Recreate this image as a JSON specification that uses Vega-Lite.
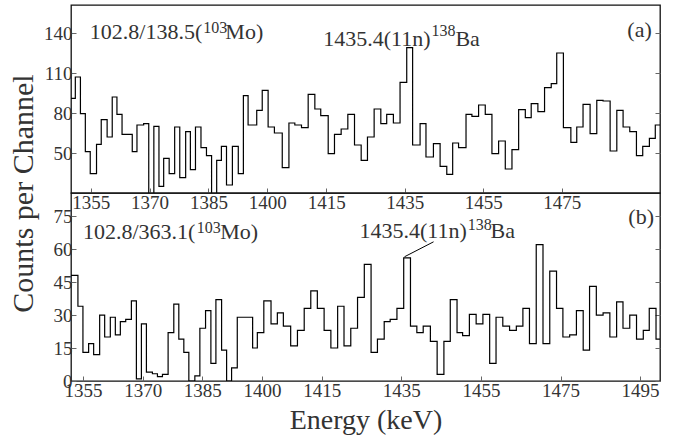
{
  "$schema": "https://vega.github.io/schema/vega-lite/v6.json",
  "background": "white",
  "padding": {"left": 7, "top": 4, "right": 5, "bottom": 5},
  "bounds": "flush",
  "spacing": 0,
  "config": {
    "font": "Liberation Serif",
    "view": {"stroke": "#111", "strokeWidth": 1.3},
    "axis": {
      "labelFont": "Liberation Serif", "labelFontSize": 19, "labelColor": "#333",
      "tickColor": "#666", "tickSize": -5, "domain": false, "grid": false,
      "titleFont": "Liberation Serif", "titleFontWeight": "normal", "titleColor": "#333"
    },
    "text": {"font": "Liberation Serif", "color": "#333"}
  },
  "datasets": {
    "a": [
      {"e":1350.0,"c":91},{"e":1351.1,"c":107},{"e":1352.4,"c":79.5},{"e":1353.65,"c":51},{"e":1354.9,"c":34.5},{"e":1356.5,"c":56.5},{"e":1357.7,"c":75},{"e":1359.2,"c":62},{"e":1360.5,"c":92},{"e":1361.7,"c":79},{"e":1363.0,"c":64},{"e":1365.6,"c":51},{"e":1366.8,"c":71},{"e":1368.5,"c":72},{"e":1369.8,"c":15},{"e":1371.1,"c":70},{"e":1372.4,"c":25},{"e":1373.6,"c":46},{"e":1375.0,"c":34.5},{"e":1376.4,"c":69.5},{"e":1377.7,"c":31.5},{"e":1379.2,"c":66},{"e":1380.4,"c":37.5},{"e":1381.7,"c":69.5},{"e":1383.1,"c":54},{"e":1384.5,"c":48},{"e":1385.8,"c":19},{"e":1387.1,"c":44.5},{"e":1388.3,"c":55},{"e":1389.6,"c":26},{"e":1391.1,"c":55},{"e":1392.6,"c":34.5},{"e":1393.9,"c":93},{"e":1395.1,"c":71},{"e":1397.3,"c":82},{"e":1398.7,"c":97},{"e":1400.2,"c":69.5},{"e":1401.8,"c":65},{"e":1403.8,"c":39},{"e":1405.5,"c":72.5},{"e":1407.0,"c":71},{"e":1408.7,"c":69},{"e":1410.4,"c":94},{"e":1412.1,"c":83},{"e":1413.6,"c":78},{"e":1415.5,"c":49.5},{"e":1417.1,"c":64},{"e":1418.8,"c":68},{"e":1420.5,"c":79},{"e":1422.2,"c":56},{"e":1423.9,"c":44.5},{"e":1425.5,"c":62},{"e":1427.2,"c":83},{"e":1428.9,"c":72},{"e":1430.4,"c":79},{"e":1432.1,"c":72.5},{"e":1433.8,"c":103},{"e":1435.5,"c":129},{"e":1437.0,"c":56},{"e":1438.9,"c":72},{"e":1440.4,"c":47},{"e":1442.3,"c":57},{"e":1444.0,"c":40},{"e":1445.7,"c":34},{"e":1447.2,"c":57.5},{"e":1448.7,"c":54},{"e":1450.6,"c":79},{"e":1452.1,"c":77.5},{"e":1453.8,"c":86},{"e":1455.5,"c":79},{"e":1457.2,"c":49.5},{"e":1458.9,"c":59},{"e":1460.6,"c":38},{"e":1462.3,"c":52.5},{"e":1464.0,"c":82.5},{"e":1465.7,"c":76.5},{"e":1467.2,"c":87},{"e":1468.9,"c":81},{"e":1470.6,"c":99},{"e":1472.3,"c":102},{"e":1473.7,"c":125},{"e":1475.4,"c":69},{"e":1477.3,"c":58},{"e":1478.8,"c":69.5},{"e":1480.4,"c":86.5},{"e":1482.2,"c":64.5},{"e":1483.9,"c":89.5},{"e":1485.5,"c":89},{"e":1487.3,"c":51.5},{"e":1489.0,"c":82},{"e":1490.6,"c":69.5},{"e":1492.3,"c":66},{"e":1494.0,"c":48},{"e":1495.6,"c":55},{"e":1497.3,"c":61},{"e":1498.8,"c":71},{"e":1500,"c":71}
    ],
    "b": [
      {"e":1352.0,"c":48},{"e":1353.74,"c":34},{"e":1355.0,"c":13},{"e":1356.43,"c":17},{"e":1357.69,"c":12},{"e":1359.2,"c":30},{"e":1360.46,"c":20},{"e":1361.88,"c":29},{"e":1363.14,"c":21},{"e":1364.4,"c":27},{"e":1365.75,"c":28},{"e":1367.17,"c":36.4},{"e":1368.43,"c":1},{"e":1369.69,"c":26},{"e":1370.95,"c":4},{"e":1372.46,"c":3.3},{"e":1373.72,"c":2},{"e":1374.98,"c":3},{"e":1376.4,"c":22},{"e":1377.83,"c":35},{"e":1379.09,"c":19},{"e":1380.35,"c":13},{"e":1381.61,"c":0},{"e":1383.12,"c":2.3},{"e":1384.38,"c":24},{"e":1385.81,"c":32},{"e":1387.15,"c":8},{"e":1388.41,"c":37},{"e":1389.84,"c":14},{"e":1391.1,"c":0},{"e":1392.35,"c":6},{"e":1393.78,"c":29},{"e":1397.64,"c":15},{"e":1398.82,"c":22},{"e":1400.45,"c":36.4},{"e":1402.26,"c":26},{"e":1403.85,"c":31},{"e":1405.36,"c":25},{"e":1407.2,"c":16},{"e":1408.9,"c":23},{"e":1410.6,"c":33},{"e":1412.25,"c":41},{"e":1413.9,"c":33},{"e":1415.6,"c":23},{"e":1417.3,"c":15},{"e":1419.0,"c":34},{"e":1420.6,"c":16},{"e":1422.3,"c":24},{"e":1424.0,"c":38},{"e":1425.7,"c":53},{"e":1427.4,"c":13},{"e":1429.0,"c":19},{"e":1430.7,"c":27},{"e":1432.2,"c":28},{"e":1433.9,"c":33},{"e":1435.6,"c":56},{"e":1437.3,"c":25},{"e":1438.9,"c":22},{"e":1440.5,"c":25},{"e":1442.3,"c":18},{"e":1444.0,"c":3},{"e":1445.7,"c":18},{"e":1447.3,"c":37},{"e":1449.0,"c":22},{"e":1450.4,"c":20.6},{"e":1452.1,"c":30.3},{"e":1453.8,"c":26},{"e":1455.5,"c":30.3},{"e":1457.2,"c":8},{"e":1458.8,"c":29},{"e":1460.5,"c":25},{"e":1462.2,"c":23},{"e":1463.9,"c":25},{"e":1465.55,"c":33},{"e":1467.2,"c":17},{"e":1468.9,"c":62},{"e":1470.6,"c":17},{"e":1472.3,"c":50},{"e":1474.0,"c":33},{"e":1475.6,"c":20},{"e":1477.3,"c":21},{"e":1479.0,"c":32},{"e":1480.7,"c":14},{"e":1482.3,"c":43},{"e":1484.0,"c":30},{"e":1485.7,"c":31},{"e":1487.4,"c":20},{"e":1489.1,"c":36},{"e":1490.7,"c":24},{"e":1492.4,"c":30},{"e":1494.1,"c":19},{"e":1495.8,"c":23},{"e":1497.3,"c":33},{"e":1499.0,"c":19},{"e":1500,"c":19}
    ],
    "ta": [
      {"e":1354.8,"c":135.5,"t":"102.8/138.5(","k":"main"},
      {"e":1383.7,"c":140.2,"t":"103","k":"sup"},
      {"e":1389.3,"c":135.5,"t":"Mo)","k":"main"},
      {"e":1414.25,"c":130.4,"t":"1435.4(11n)","k":"main"},
      {"e":1441.8,"c":138,"t":"138","k":"sup"},
      {"e":1447.9,"c":130.4,"t":"Ba","k":"main"}
    ],
    "tb": [
      {"e":1355.0,"c":64.4,"t":"102.8/363.1(","k":"main"},
      {"e":1383.6,"c":67.3,"t":"103","k":"sup"},
      {"e":1389.5,"c":64.4,"t":"Mo)","k":"main"},
      {"e":1424.5,"c":65.2,"t":"1435.4(11n)","k":"main"},
      {"e":1451.7,"c":68.6,"t":"138","k":"sup"},
      {"e":1457.4,"c":65.2,"t":"Ba","k":"main"}
    ],
    "pa": [{"e":1497.9,"c":137.2,"t":"(a)"}],
    "pb": [{"e":1498.5,"c":71.2,"t":"(b)"}],
    "lead": [{"e":1435.8,"c":56.5,"e2":1443.1,"c2":63.3}]
  },
  "vconcat": [
    {
      "width": 589, "height": 188,
      "resolve": {"axis": {"y": "independent"}},
      "encoding": {
        "x": {"field":"e","type":"quantitative","scale":{"domain":[1350,1500],"nice":false,"zero":false},
              "axis":{"values":[1355,1370,1385,1400,1415,1435,1455,1475],"format":"d","title":null,"labelPadding":5}},
        "y": {"field":"c","type":"quantitative","axis":null,"scale":{"domain":[20,161],"nice":false,"zero":false}}
      },
      "layer": [
        {
          "data": {"name":"a"},
          "mark": {"type":"line","interpolate":"step-after","color":"black","strokeWidth":1.2,"clip":true},
          "encoding": {
            "y": {"field":"c","type":"quantitative","axis":{"orient":"left","values":[50,80,110,140],"format":"d","title":"Counts per Channel","titleFontSize":30,"titleY":188,"titleX":-48,"titleBaseline":"middle","labelPadding":4}}
          }
        },
        {
          "data": {"name":"a"},
          "mark": {"type":"line","opacity":0},
          "encoding": {
            "y": {"field":"c","type":"quantitative","axis":{"orient":"right","values":[50,80,110,140],"labels":false,"title":null}}
          }
        },
        {
          "data": {"name":"ta"},
          "transform": [{"filter":"datum.k == 'main'"}],
          "mark": {"type":"text","align":"left","baseline":"alphabetic","fontSize":22},
          "encoding": {"text":{"field":"t"}}
        },
        {
          "data": {"name":"ta"},
          "transform": [{"filter":"datum.k == 'sup'"}],
          "mark": {"type":"text","align":"left","baseline":"alphabetic","fontSize":16},
          "encoding": {"text":{"field":"t"}}
        },
        {
          "data": {"name":"pa"},
          "mark": {"type":"text","align":"right","baseline":"alphabetic","fontSize":22},
          "encoding": {"text":{"field":"t"}}
        }
      ]
    },
    {
      "width": 589, "height": 188,
      "resolve": {"axis": {"y": "independent"}},
      "encoding": {
        "x": {"field":"e","type":"quantitative","scale":{"domain":[1352,1500],"nice":false,"zero":false},
              "axis":{"values":[1355,1370,1385,1400,1415,1435,1455,1475,1495],"format":"d","title":"Energy (keV)","titleFontSize":28,"titlePadding":6,"labelPadding":5}},
        "y": {"field":"c","type":"quantitative","axis":null,"scale":{"domain":[0,85.5],"nice":false,"zero":false}}
      },
      "layer": [
        {
          "data": {"name":"b"},
          "mark": {"type":"line","interpolate":"step-after","color":"black","strokeWidth":1.2,"clip":true},
          "encoding": {
            "y": {"field":"c","type":"quantitative","axis":{"orient":"left","values":[0,15,30,45,60,75],"format":"d","title":null,"labelPadding":4}}
          }
        },
        {
          "data": {"name":"b"},
          "mark": {"type":"line","opacity":0},
          "encoding": {
            "y": {"field":"c","type":"quantitative","axis":{"orient":"right","values":[0,15,30,45,60,75],"labels":false,"title":null}}
          }
        },
        {
          "data": {"name":"lead"},
          "mark": {"type":"rule","color":"black","strokeWidth":1},
          "encoding": {
            "x2": {"field":"e2"},
            "y2": {"field":"c2"}
          }
        },
        {
          "data": {"name":"tb"},
          "transform": [{"filter":"datum.k == 'main'"}],
          "mark": {"type":"text","align":"left","baseline":"alphabetic","fontSize":22},
          "encoding": {"text":{"field":"t"}}
        },
        {
          "data": {"name":"tb"},
          "transform": [{"filter":"datum.k == 'sup'"}],
          "mark": {"type":"text","align":"left","baseline":"alphabetic","fontSize":16},
          "encoding": {"text":{"field":"t"}}
        },
        {
          "data": {"name":"pb"},
          "mark": {"type":"text","align":"right","baseline":"alphabetic","fontSize":22},
          "encoding": {"text":{"field":"t"}}
        }
      ]
    }
  ]
}
